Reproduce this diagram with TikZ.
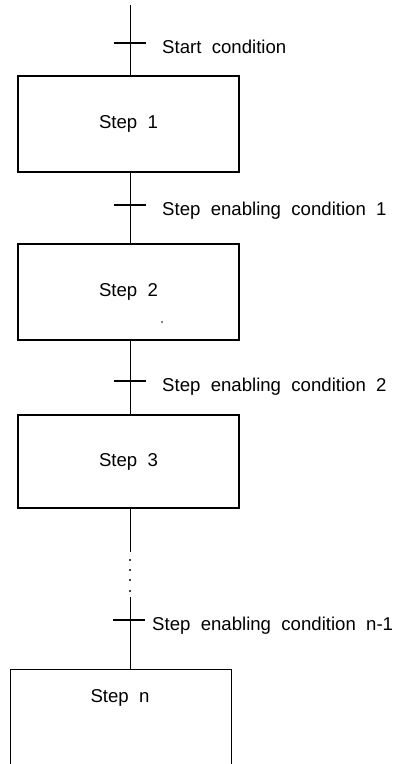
\documentclass[tikz,border=0pt]{standalone}
\usepackage{fontspec}
\setmainfont[WordSpace=2]{Liberation Sans}
\usetikzlibrary{calc,positioning}
\tikzset{
    stepbox/.style={draw, line width=1.1pt, minimum width=221pt, inner sep=0pt,
        text height=13pt, text depth=4pt, font=\fontsize{18.6}{22}\selectfont},
    cond/.style={inner sep=0pt, yshift=-6pt,
        text height=13pt, text depth=4pt, font=\fontsize{18.6}{22}\selectfont},
    link/.style={line width=0.8pt},
    bar/.style={line width=1.5pt},
}

\begin{document}
\begin{tikzpicture}[x=1pt,y=1pt,yscale=-1]
\useasboundingbox (0,0) rectangle (399,764);
%Steps
\node[stepbox, minimum height=96pt] (step1) at (128.5,124) {Step 1};
\node[stepbox, minimum height=96pt] (step2) at (128.5,292) {Step 2};
\node[stepbox, minimum height=93pt] (step3) at (128.5,461.5) {Step 3};
\node[minimum width=220pt, minimum height=94pt, inner sep=0pt] (stepn) at (121,717) {};
\node[font=\fontsize{18.6}{22}\selectfont, inner sep=0pt] (lbln) at (120,698) {Step n};
% last step runs off the bottom
\draw[line width=1.1pt] (stepn.south west) -- (stepn.north west) -- (stepn.north east) -- (stepn.south east);
\fill (162,322) circle (0.9);
%Transitions
\coordinate (top) at (130,5);
\coordinate (t0) at (130,43);
\coordinate (t1) at (130,205);
\coordinate (t2) at (130,381);
\coordinate (gapa) at (130,552);
\coordinate (gapb) at (130,597);
\coordinate (t3) at (129,620);
%Straight Lines
\draw[link] (top) -- (top |- step1.north);
\draw[link] (t1 |- step1.south) -- (t1 |- step2.north);
\draw[link] (t2 |- step2.south) -- (t2 |- step3.north);
\draw[link] (gapa |- step3.south) -- (gapa);
\draw[link] (gapb) -- (gapb |- stepn.north);
\foreach \y in {560,570,580,591}
    \fill (130,\y) circle (1.1);
%Ticks
\foreach \t in {t0,t1,t2}
    \draw[bar] ($(\t)+(-16,0)$) -- ($(\t)+(16,0)$);
\draw[bar] ($(t3)+(-16,0)$) -- ($(t3)+(16,0)$);
\node[cond, right=32pt of t0] (c0) {Start condition};
\node[cond, right=32pt of t1] (c1) {Step enabling condition 1};
\node[cond, right=32pt of t2] (c2) {Step enabling condition 2};
\node[cond, right=23pt of t3] (c3) {Step enabling condition n-1};
\end{tikzpicture}
\end{document}
